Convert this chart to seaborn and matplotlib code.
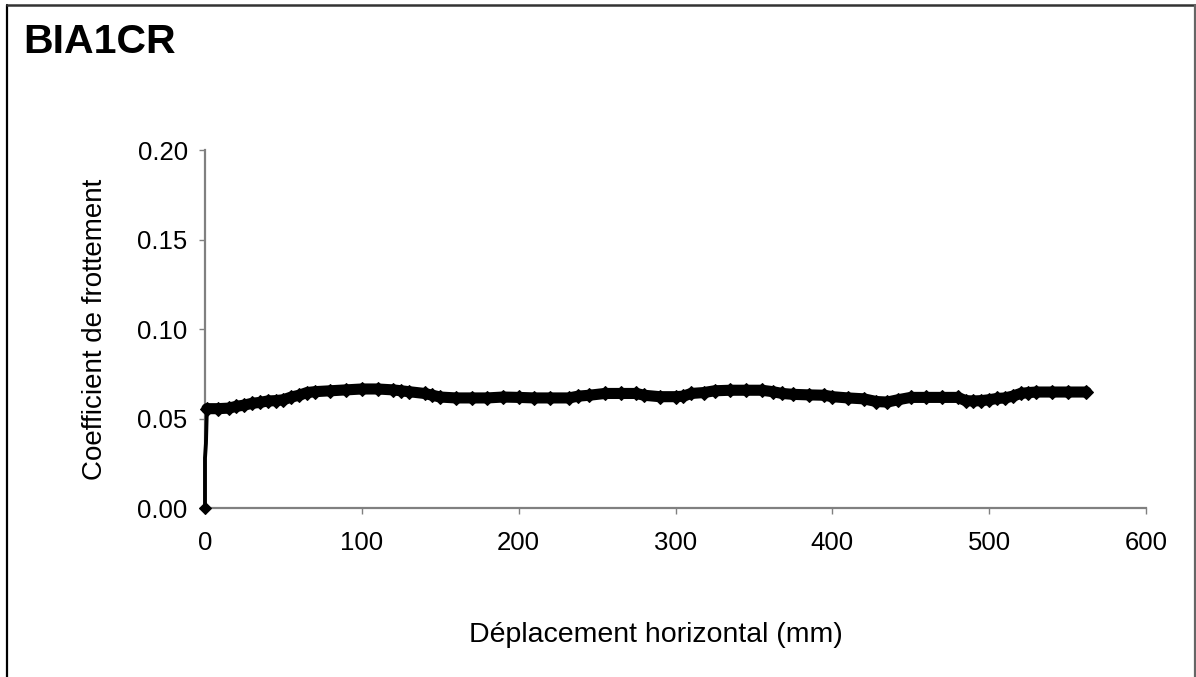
import matplotlib
matplotlib.use("Agg")
import matplotlib.pyplot as plt
from matplotlib.lines import Line2D
import seaborn as sns

# ---- data ----
title = "BIA1CR"
x_label = "Déplacement horizontal (mm)"
y_label = "Coefficient de frottement"
x_ticks = [0, 100, 200, 300, 400, 500, 600]
y_ticks = [0.00, 0.05, 0.10, 0.15, 0.20]

rise_x = [0.0, 0.0, 0.6, 1.2]
rise_y = [0.0, 0.028, 0.036, 0.0555]

disp_mm = [1.2, 8, 15, 20, 25, 30, 35, 40, 45, 50, 55, 60, 65, 70, 80,
           90, 100, 110, 120, 125, 130, 140, 145, 150, 160, 170, 180, 190, 200, 210,
           220, 232, 238, 245, 255, 265, 275, 280, 290, 300, 305, 310, 318, 325, 335,
           345, 355, 362, 368, 375, 385, 395, 400, 410, 420, 428, 435, 442, 450, 460,
           470, 480, 485, 490, 495, 500, 505, 510, 515, 520, 525, 530, 540, 550, 562]
friction = [0.0555, 0.0555, 0.0558, 0.0568, 0.0575, 0.0585, 0.059, 0.0598, 0.060, 0.0605,
            0.062, 0.063, 0.0645, 0.065, 0.0655, 0.066, 0.0665, 0.0665, 0.066, 0.0655,
            0.065, 0.064, 0.063, 0.062, 0.0615, 0.0615, 0.0615, 0.062, 0.0618, 0.0615,
            0.0615, 0.0615, 0.0625, 0.063, 0.064, 0.064, 0.064, 0.063, 0.0622, 0.0622,
            0.0625, 0.064, 0.0645, 0.0655, 0.0658, 0.0658, 0.0658, 0.065, 0.064, 0.0635,
            0.0632, 0.063, 0.0622, 0.0615, 0.061, 0.0595, 0.0592, 0.0605, 0.0618, 0.0618,
            0.0618, 0.0618, 0.060, 0.0598, 0.060, 0.0605, 0.0612, 0.0615, 0.0625, 0.064,
            0.0645, 0.0648, 0.0648, 0.0648, 0.0648]

# ---- style ----
sns.set_style("white")
plt.rcParams['font.family'] = ['Liberation Sans', 'DejaVu Sans']
plt.rcParams['text.color'] = 'black'
plt.rcParams['axes.labelcolor'] = 'black'

fig = plt.figure(figsize=(11.96, 6.77), dpi=100)
ax = fig.add_axes([0.1714, 0.2496, 0.7868, 0.5288])

# initial rise (thin line)
sns.lineplot(x=rise_x, y=rise_y, sort=False, estimator=None, color="black",
             linewidth=2.8, marker="D", markersize=6.5, markevery=[0],
             markeredgecolor="black", markerfacecolor="black", ax=ax, clip_on=False,
             zorder=3)
# main plateau (thick band of diamonds)
sns.lineplot(x=disp_mm, y=friction, sort=False, estimator=None, color="black",
             linewidth=8, marker="D", markersize=6.8,
             markeredgecolor="black", markerfacecolor="black", ax=ax, clip_on=False,
             zorder=3)

ax.set_xlim(0, 600)
ax.set_ylim(0, 0.20)
ax.set_xticks(x_ticks)
ax.set_yticks(y_ticks)
ax.set_xticklabels([str(v) for v in x_ticks])
ax.set_yticklabels([f"{v:.2f}" for v in y_ticks])

for side in ["top", "right"]:
    ax.spines[side].set_visible(False)
for side in ["left", "bottom"]:
    ax.spines[side].set_color("#808080")
    ax.spines[side].set_linewidth(1.6)

ax.tick_params(axis="y", which="major", direction="out", length=4.5, width=1.0,
               color="#808080", labelcolor="black", labelsize=18.5, pad=8, left=True)
ax.tick_params(axis="x", which="major", direction="out", length=4.5, width=1.0,
               color="#808080", labelcolor="black", labelsize=18.5, pad=12, bottom=True)

ax.set_xlabel(x_label, fontsize=20.5, color="black")
ax.set_ylabel(y_label, fontsize=20, labelpad=21, color="black")
ax.xaxis.set_label_coords(0.479, -0.355, transform=ax.transAxes)
ax.xaxis.label.set_va("center")
ax.grid(False)

fig.text(0.0192, 0.966, title, fontsize=29.5, fontweight="bold", ha="left", va="top",
         color="black")

# figure frame
fig.add_artist(Line2D([0.0059, 0.0059], [0.0, 0.9926], transform=fig.transFigure,
                      color="black", linewidth=1.6))
fig.add_artist(Line2D([0.0059, 1.0], [0.9926, 0.9926], transform=fig.transFigure,
                      color="#333333", linewidth=1.8))
fig.add_artist(Line2D([0.9988, 0.9988], [0.0, 0.9926], transform=fig.transFigure,
                      color="#666666", linewidth=1.6))

fig.savefig("out.png", dpi=100, facecolor="white")
